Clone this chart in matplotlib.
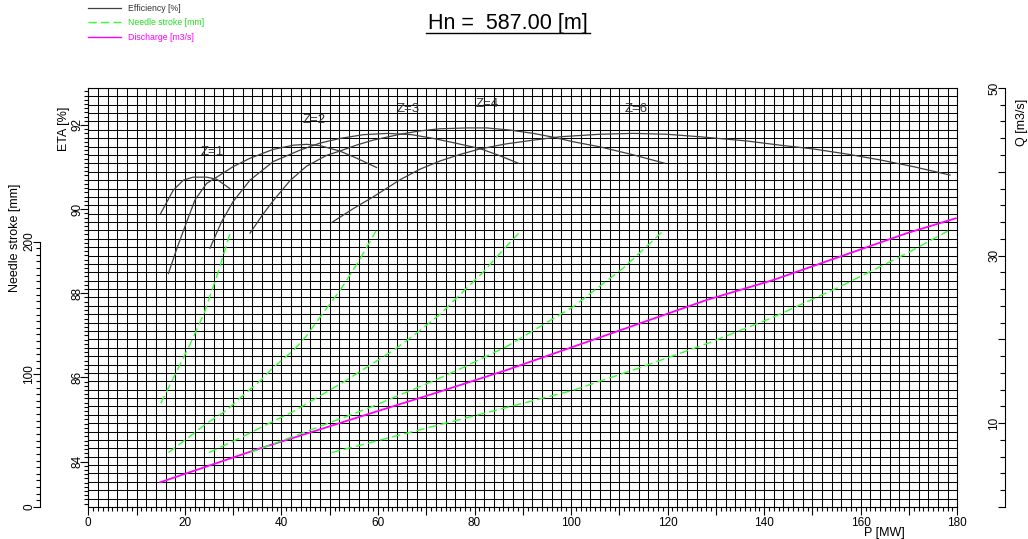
import numpy as np
import matplotlib.pyplot as plt
from matplotlib.ticker import MultipleLocator, FuncFormatter
from matplotlib.lines import Line2D

plt.rcParams['font.family'] = ['Liberation Sans', 'DejaVu Sans']

# efficiency [%] vs P [MW], one curve per number of nozzles Z
z1_p = [15.0, 17.6, 19.7, 21.7, 24.5, 26.6, 29.3]
z1_eta = [89.90, 90.45, 90.69, 90.76, 90.76, 90.71, 90.49]
z2_p = [16.6, 18.3, 20.0, 22.1, 24.5, 26.6, 30.0, 33.5, 38.3, 42.5, 45.2, 48.0, 52.1, 55.6, 59.7]
z2_eta = [88.47, 89.05, 89.58, 90.22, 90.61, 90.76, 91.01, 91.21, 91.42, 91.52, 91.54, 91.51, 91.38, 91.21, 90.99]
z3_p = [25.2, 27.6, 30.0, 33.5, 38.3, 43.8, 48.0, 52.1, 57.0, 62.0, 67.0, 71.5, 76.0, 81.1, 85.0, 89.1]
z3_eta = [89.07, 89.70, 90.18, 90.69, 91.13, 91.40, 91.57, 91.68, 91.77, 91.80, 91.77, 91.68, 91.57, 91.44, 91.28, 91.09]
z4_p = [33.5, 36.0, 38.3, 41.8, 45.2, 49.4, 52.1, 55.5, 59.0, 64.6, 68.7, 72.8, 78.4, 82.5, 87.3, 92.2, 96.3, 100.5, 106.0, 112.9, 119.4]
z4_eta = [89.43, 89.85, 90.20, 90.68, 91.02, 91.28, 91.38, 91.52, 91.64, 91.78, 91.86, 91.91, 91.93, 91.93, 91.88, 91.80, 91.71, 91.60, 91.48, 91.29, 91.09]
z6_p = [50.4, 55.0, 59.0, 64.6, 68.7, 73.0, 77.0, 81.1, 86.5, 92.2, 97.7, 106.0, 112.9, 119.8, 126.7, 136.4, 143.3, 150.2, 157.1, 164.0, 170.9, 178.5]
z6_eta = [89.68, 90.02, 90.29, 90.70, 90.95, 91.15, 91.30, 91.43, 91.55, 91.64, 91.72, 91.78, 91.80, 91.78, 91.72, 91.62, 91.52, 91.43, 91.31, 91.17, 91.01, 90.81]

# needle stroke [mm] vs P [MW]
n1_p = [15.0, 18.0, 21.0, 24.0, 27.0, 29.5]
n1_s = [78, 100, 122, 146, 178, 208]
n2_p = [16.6, 21.7, 24.5, 28.7, 31.4, 35.6, 38.3, 42.5, 45.2, 47.0, 52.1, 56.0, 59.6]
n2_s = [41, 55, 63, 73, 82, 95, 105, 118, 129, 138, 163, 185, 208]
n3_p = [25.0, 32.0, 38.0, 42.5, 52.8, 63.2, 68.0, 72.8, 77.0, 81.8, 85.5, 89.1]
n3_s = [41, 53, 64, 72, 94, 118, 131, 145, 160, 177, 192, 206]
n4_p = [33.5, 43.8, 57.7, 71.5, 77.0, 86.7, 100.5, 110.8, 119.1]
n4_s = [41, 55, 74, 95, 104, 121, 151, 180, 208]
n6_p = [50.4, 63.2, 72.8, 86.7, 100.5, 114.3, 128.1, 141.9, 155.7, 169.5, 178.1]
n6_s = [41, 53, 62, 75, 88, 105, 123, 143, 166, 191, 208]

# discharge [m3/s] vs P [MW]
q_p = [14.9, 35.6, 56.3, 72.8, 86.7, 100.5, 114.3, 128.1, 141.9, 155.7, 169.5, 179.7]
q_val = [2.95, 7.0, 10.78, 13.76, 16.35, 19.13, 21.92, 24.70, 27.09, 29.87, 32.66, 34.45]

eff_curves = [(z1_p, z1_eta), (z2_p, z2_eta), (z3_p, z3_eta), (z4_p, z4_eta), (z6_p, z6_eta)]
needle_curves = [(n1_p, n1_s), (n2_p, n2_s), (n3_p, n3_s), (n4_p, n4_s), (n6_p, n6_s)]
z_labels = ['Z=1', 'Z=2', 'Z=3', 'Z=4', 'Z=6']
z_label_pos = [(25.6, 91.35), (46.7, 92.12), (66.2, 92.39), (82.6, 92.51), (113.4, 92.37)]

eff_col = '#404040'
green = '#33ff33'
magenta = '#ff00ff'

fig = plt.figure(figsize=(10.28, 5.39), dpi=100)
box = [0.0859, 0.0594, 0.8453, 0.7774]

# background axes: grid, P axis, Q axis, discharge
axg = fig.add_axes(box)
axg.set_xlim(0, 180)
axg.set_ylim(0, 50)
axg.vlines(np.arange(0, 181, 2), 0, 50, color='black', lw=0.75, zorder=0)
axg.hlines(np.arange(0, 51, 1), 0, 180, color='black', lw=0.75, zorder=0)
axg.plot(q_p, q_val, color=magenta, lw=1.3, zorder=3)
axg.xaxis.set_major_locator(MultipleLocator(10))
axg.xaxis.set_minor_locator(MultipleLocator(1))
axg.xaxis.set_major_formatter(FuncFormatter(lambda v, _: f'{v:.0f}' if v % 20 == 0 else ''))
axg.spines['left'].set_position(('axes', 1.0549))
axg.yaxis.set_major_locator(MultipleLocator(10))
axg.yaxis.set_minor_locator(MultipleLocator(2))
axg.yaxis.set_major_formatter(FuncFormatter(lambda v, _: f'{v:.0f}' if v % 20 == 10 else ''))
axg.tick_params(axis='x', which='major', length=6, width=0.8, pad=1.5, labelsize=8.5)
axg.tick_params(axis='x', which='minor', length=3, width=0.8)
axg.tick_params(axis='y', which='major', length=5, width=0.8, pad=-1.5, labelsize=8.5, labelrotation=90)
axg.tick_params(axis='y', which='minor', length=3.5, width=0.8)
for lbl in axg.get_yticklabels():
    lbl.set_va('center')
for s in axg.spines.values():
    s.set_linewidth(0.8)

# ETA axis
ax = fig.add_axes(box)
ax.patch.set_visible(False)
ax.set_xlim(0, 180)
ax.set_ylim(82.92, 92.88)
for (p, e) in eff_curves:
    ax.plot(p, e, color=eff_col, lw=0.9)
for lab, (xp, ye) in zip(z_labels, z_label_pos):
    ax.text(xp, ye, lab, ha='center', va='center', fontsize=9.5, color='#333333')
for k in ['top', 'right', 'bottom']:
    ax.spines[k].set_visible(False)
ax.spines['left'].set_linewidth(0.8)
ax.tick_params(axis='x', bottom=False, labelbottom=False)
ax.yaxis.set_major_locator(MultipleLocator(2))
ax.yaxis.set_minor_locator(MultipleLocator(0.1))
ax.tick_params(axis='y', which='major', length=6, width=0.8, pad=-2.5, labelsize=8.5, labelrotation=90)
ax.tick_params(axis='y', which='minor', length=3, width=0.8)
for lbl in ax.get_yticklabels():
    lbl.set_va('center')

# needle stroke axis
axn = fig.add_axes(box)
axn.patch.set_visible(False)
axn.set_xlim(0, 180)
axn.set_ylim(0, 315.7)
for (p, s) in needle_curves:
    axn.plot(p, s, color=green, lw=1.0, dashes=(6, 3))
for k in ['top', 'right', 'bottom']:
    axn.spines[k].set_visible(False)
axn.spines['left'].set_position(('outward', 34.6))
axn.spines['left'].set_bounds(0, 200)
axn.spines['left'].set_linewidth(0.8)
axn.tick_params(axis='x', bottom=False, labelbottom=False)
axn.set_yticks(np.arange(0, 201, 100))
axn.set_yticks(np.arange(0, 201, 5), minor=True)
axn.tick_params(axis='y', which='major', length=5, width=0.8, pad=-1.5, labelsize=8.5, labelrotation=90)
axn.tick_params(axis='y', which='minor', length=3, width=0.8)
for lbl in axn.get_yticklabels():
    lbl.set_va('center')

# axis titles
fig.text(64 / 1028, 1 - 129 / 539, 'ETA [%]', rotation=90, ha='center', va='center', fontsize=9)
fig.text(15.5 / 1028, 1 - 238 / 539, 'Needle stroke [mm]', rotation=90, ha='center', va='center', fontsize=9)
fig.text(1022 / 1028, 1 - 122 / 539, 'Q [m3/s]', rotation=90, ha='center', va='center', fontsize=9)
fig.text(884 / 1028, 1 - 533 / 539, 'P [MW]', ha='center', va='center', fontsize=9)

# legend
handles = [Line2D([], [], color=eff_col, lw=0.9),
           Line2D([], [], color=green, lw=1.0, dashes=(6, 3)),
           Line2D([], [], color=magenta, lw=1.0)]
leg = fig.legend(handles, ['Efficiency [%]', 'Needle stroke [mm]', 'Discharge [m3/s]'],
                 loc='upper left', bbox_to_anchor=(88 / 1028, 1 - 4 / 539), frameon=False,
                 fontsize=6.3, handlelength=3.8, handletextpad=0.8, labelspacing=0.62,
                 borderpad=0, borderaxespad=0)
for t, c in zip(leg.get_texts(), ['#333333', '#22dd22', magenta]):
    t.set_color(c)

# title with underline
title = fig.text(508 / 1028, 1 - 29 / 539, 'Hn =  587.00 [m]', ha='center', va='baseline', fontsize=15.5)
fig.canvas.draw()
bb = title.get_window_extent().transformed(fig.transFigure.inverted())
uy = 1 - 33 / 539
fig.add_artist(Line2D([bb.x0 - 0.002, bb.x1 + 0.002], [uy, uy], color='black', lw=1.0,
                      transform=fig.transFigure))

fig.savefig('out.png', dpi=100)
